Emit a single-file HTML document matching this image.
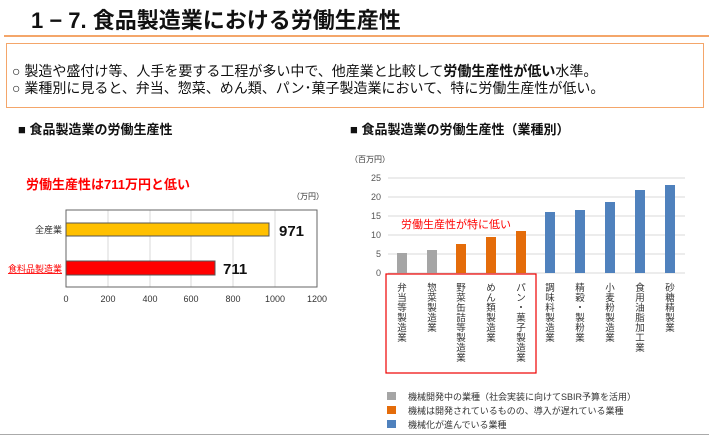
<!DOCTYPE html>
<html><head><meta charset="utf-8"><style>
body{margin:0;width:709px;height:436px;background:#fff;position:relative;overflow:hidden;font-family:"Liberation Sans","Noto Sans CJK JP",sans-serif;}
.a{position:absolute;white-space:nowrap;}
</style></head><body>
<div class="a" style="left:31px;top:3px;font-size:22px;font-weight:bold;color:#111;">1 − 7. 食品製造業における労働生産性</div>
<div class="a" style="left:4px;top:35px;width:705px;height:2px;background:#f4a66a;"></div>
<div class="a" style="left:6px;top:43px;width:696px;height:63px;border:1.5px solid #f4a66a;"></div>
<div class="a" style="left:12px;top:61px;font-size:14px;color:#111;">○ 製造や盛付け等、人手を要する工程が多い中で、他産業と比較して<b>労働生産性が低い</b>水準。</div>
<div class="a" style="left:12px;top:78px;font-size:14px;color:#111;">○ 業種別に見ると、弁当、惣菜、めん類、パン･菓子製造業において、特に労働生産性が低い。</div>
<div class="a" style="left:18px;top:119px;font-size:13px;font-weight:bold;color:#111;">■ 食品製造業の労働生産性</div>
<div class="a" style="left:350px;top:119px;font-size:13px;font-weight:bold;color:#111;">■ 食品製造業の労働生産性（業種別）</div>
<div class="a" style="left:26px;top:174px;font-size:13px;font-weight:bold;color:#f00;">労働生産性は711万円と低い</div>
<div class="a" style="left:292px;top:191px;font-size:8px;color:#333;">（万円）</div>
<svg class="a" style="left:0;top:0" width="709" height="436">
<g stroke="#d9d9d9" stroke-width="1">
<line x1="108" y1="210" x2="108" y2="287"/><line x1="150" y1="210" x2="150" y2="287"/><line x1="191" y1="210" x2="191" y2="287"/><line x1="233" y1="210" x2="233" y2="287"/><line x1="275" y1="210" x2="275" y2="287"/>
</g>
<rect x="66" y="210" width="251" height="77" fill="none" stroke="#666" stroke-width="1"/>
<rect x="66" y="223" width="203" height="13" fill="#ffc000" stroke="#555"/>
<rect x="66" y="261" width="149" height="14" fill="#ff0000" stroke="#555"/>
<g font-size="9" fill="#333" text-anchor="middle">
<text x="66" y="302">0</text><text x="108" y="302">200</text><text x="150" y="302">400</text><text x="191" y="302">600</text><text x="233" y="302">800</text><text x="275" y="302">1000</text><text x="317" y="302">1200</text>
</g>
<text x="62" y="233" font-size="9" fill="#333" text-anchor="end">全産業</text>
<text x="62" y="272" font-size="9" fill="#f00" text-anchor="end" text-decoration="underline">食料品製造業</text>
<text x="279" y="236" font-size="15" font-weight="bold" fill="#111">971</text>
<text x="223" y="274" font-size="15" font-weight="bold" fill="#111">711</text>

<text x="350" y="162" font-size="8" fill="#333">（百万円）</text>
<g stroke="#d9d9d9"><line x1="388" y1="178" x2="685" y2="178"/><line x1="388" y1="197" x2="685" y2="197"/><line x1="388" y1="216" x2="685" y2="216"/><line x1="388" y1="235" x2="685" y2="235"/><line x1="388" y1="254" x2="685" y2="254"/><line x1="388" y1="273" x2="685" y2="273"/></g>
<g font-size="9" fill="#555" text-anchor="end"><text x="381" y="181">25</text><text x="381" y="200">20</text><text x="381" y="219">15</text><text x="381" y="238">10</text><text x="381" y="257">5</text><text x="381" y="276">0</text></g>
<g>
<rect x="397" y="253" width="10" height="20" fill="#a5a5a5"/>
<rect x="427" y="250" width="10" height="23" fill="#a5a5a5"/>
<rect x="456" y="244" width="10" height="29" fill="#e46c0a"/>
<rect x="486" y="237" width="10" height="36" fill="#e46c0a"/>
<rect x="516" y="231" width="10" height="42" fill="#e46c0a"/>
<rect x="545" y="212" width="10" height="61" fill="#4f81bd"/>
<rect x="575" y="210" width="10" height="63" fill="#4f81bd"/>
<rect x="605" y="202" width="10" height="71" fill="#4f81bd"/>
<rect x="635" y="190" width="10" height="83" fill="#4f81bd"/>
<rect x="665" y="185" width="10" height="88" fill="#4f81bd"/>
</g>
<text x="401" y="228" font-size="11" fill="#f00">労働生産性が特に低い</text>
<rect x="386" y="274" width="150" height="99" fill="none" stroke="#e00" stroke-width="1.2"/>
<g font-size="9.5" fill="#333" text-anchor="middle">
<text x="402" y="291">弁</text><text x="402" y="301">当</text><text x="402" y="311">等</text><text x="402" y="321">製</text><text x="402" y="331">造</text><text x="402" y="341">業</text>
<text x="432" y="291">惣</text><text x="432" y="301">菜</text><text x="432" y="311">製</text><text x="432" y="321">造</text><text x="432" y="331">業</text>
<text x="461" y="291">野</text><text x="461" y="301">菜</text><text x="461" y="311">缶</text><text x="461" y="321">詰</text><text x="461" y="331">等</text><text x="461" y="341">製</text><text x="461" y="351">造</text><text x="461" y="361">業</text>
<text x="491" y="291">め</text><text x="491" y="301">ん</text><text x="491" y="311">類</text><text x="491" y="321">製</text><text x="491" y="331">造</text><text x="491" y="341">業</text>
<text x="521" y="291">パ</text><text x="521" y="301">ン</text><text x="521" y="311">・</text><text x="521" y="321">菓</text><text x="521" y="331">子</text><text x="521" y="341">製</text><text x="521" y="351">造</text><text x="521" y="361">業</text>
<text x="550" y="291">調</text><text x="550" y="301">味</text><text x="550" y="311">料</text><text x="550" y="321">製</text><text x="550" y="331">造</text><text x="550" y="341">業</text>
<text x="580" y="291">精</text><text x="580" y="301">穀</text><text x="580" y="311">・</text><text x="580" y="321">製</text><text x="580" y="331">粉</text><text x="580" y="341">業</text>
<text x="610" y="291">小</text><text x="610" y="301">麦</text><text x="610" y="311">粉</text><text x="610" y="321">製</text><text x="610" y="331">造</text><text x="610" y="341">業</text>
<text x="640" y="291">食</text><text x="640" y="301">用</text><text x="640" y="311">油</text><text x="640" y="321">脂</text><text x="640" y="331">加</text><text x="640" y="341">工</text><text x="640" y="351">業</text>
<text x="670" y="291">砂</text><text x="670" y="301">糖</text><text x="670" y="311">精</text><text x="670" y="321">製</text><text x="670" y="331">業</text>
</g>
<rect x="387" y="392" width="9" height="8" fill="#a5a5a5"/>
<rect x="387" y="406" width="9" height="8" fill="#e46c0a"/>
<rect x="387" y="420" width="9" height="8" fill="#4f81bd"/>
<g font-size="9" fill="#333"><text x="408" y="400">機械開発中の業種（社会実装に向けてSBIR予算を活用）</text><text x="408" y="414">機械は開発されているものの、導入が遅れている業種</text><text x="408" y="428">機械化が進んでいる業種</text></g>
<line x1="0" y1="434.5" x2="709" y2="434.5" stroke="#aaa"/>
</svg>
</body></html>
